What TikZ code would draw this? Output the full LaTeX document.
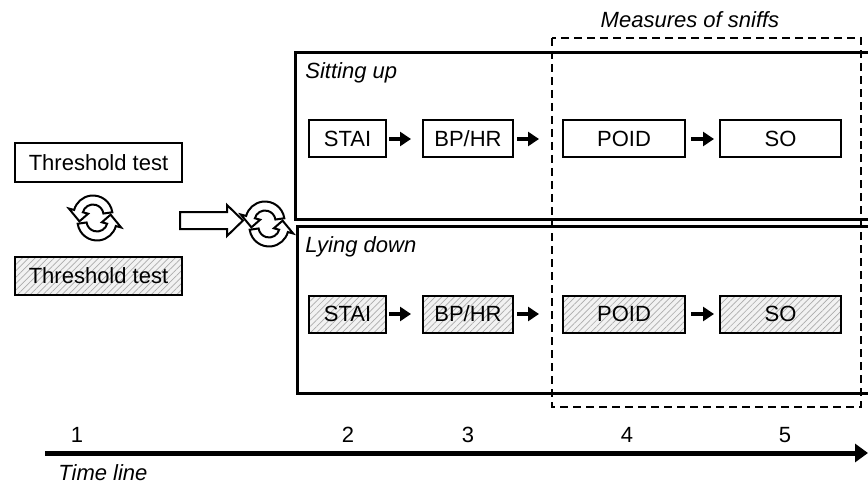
\documentclass[tikz,border=0pt]{standalone}
\usepackage{fontspec}
\setmainfont{Liberation Sans}
\usetikzlibrary{arrows.meta,patterns.meta}

\tikzset{every picture/.style={line width=0.75pt}}
\tikzset{
  txt/.style={font=\fontsize{22}{26}\selectfont},
  tag/.style={font=\fontsize{22}{26}\selectfont\itshape, inner sep=0pt},
  stepbox/.style={txt, draw, line width=2pt, minimum height=37pt, inner sep=0pt},
  hatched/.style={preaction={fill=gray!10}, pattern={Lines[angle=45,distance=4.5pt,line width=0.7pt]}, pattern color=gray!65},
  flow/.style={line width=4.5pt, -{Triangle[length=11pt,width=14pt]}},
  frame/.style={line width=3pt},
  cycleicon/.pic={
    \begin{scope}[yscale=-1, line width=2pt]
    \foreach \rot in {0,180}
      \filldraw[fill=white, rotate=\rot, shift={(2,3)}]
        (172:19.5) arc[start angle=172, end angle=15, radius=19.5]
        -- (15:25) -- (-25:15) -- (15:5) -- (15:10.5)
        arc[start angle=15, end angle=172, radius=10.5] -- cycle;
    \end{scope}
  }
}

\begin{document}
\begin{tikzpicture}[x=1pt,y=1pt,yscale=-1,xscale=1]
\useasboundingbox (0,0) rectangle (868,484);

%Shape: Rectangle (threshold tests)
\node[stepbox, minimum width=167pt, minimum height=39pt] (thrA) at (98.5,162.5) {Threshold test};
\node[stepbox, hatched, minimum width=167pt, minimum height=38pt] (thrB) at (98.5,276) {Threshold test};
\pic (cycA) at (95,218) {cycleicon};

%Shape: Block Arrow
\draw[line width=2pt, fill=white] (180,212) -- (227,212) -- (227,205) -- (243,220.5) -- (227,236) -- (227,229) -- (180,229) -- cycle;

%Straight Lines (open frames)
\draw[frame] (868,53) -- (295,53) -- (295,219) -- (868,219);
\draw[frame] (868,226.5) -- (297,226.5) -- (297,393) -- (868,393);
\pic (cycB) at (267,224) {cycleicon};

%Shape: Rectangle (dashed)
\draw[line width=2pt, dash pattern=on 8pt off 5pt] (552,38) rectangle (861,407);

% Text Node
\node[tag, anchor=base] (sniffs) at (690,28) {Measures of sniffs};
\node[tag, anchor=base west] (sit) at (305,79) {Sitting up};
\node[tag, anchor=base west] (lie) at (305,252) {Lying down};

%Shape: Rectangle (sitting up)
\node[stepbox, minimum width=77pt] (staiA) at (347.5,139) {STAI};
\node[stepbox, minimum width=90pt] (bphrA) at (468,139) {BP/HR};
\node[stepbox, minimum width=122pt] (poidA) at (624,139) {POID};
\node[stepbox, minimum width=121pt] (soA) at (780.5,139) {SO};
\draw[flow, shorten <=2pt, shorten >=11pt] (staiA) -- (bphrA);
\draw[flow, shorten <=3pt, shorten >=23pt] (bphrA) -- (poidA);
\draw[flow, shorten <=5pt, shorten >=5pt] (poidA) -- (soA);

%Shape: Rectangle (lying down)
\node[stepbox, hatched, minimum width=77pt] (staiB) at (347.5,314) {STAI};
\node[stepbox, hatched, minimum width=90pt] (bphrB) at (468,314) {BP/HR};
\node[stepbox, hatched, minimum width=122pt] (poidB) at (624,314) {POID};
\node[stepbox, hatched, minimum width=121pt] (soB) at (780.5,314) {SO};
\draw[flow, shorten <=2pt, shorten >=11pt] (staiB) -- (bphrB);
\draw[flow, shorten <=3pt, shorten >=23pt] (bphrB) -- (poidB);
\draw[flow, shorten <=5pt, shorten >=5pt] (poidB) -- (soB);

%Straight Lines (time line)
\coordinate (tStart) at (45,453);
\coordinate (tEnd) at (868,453);
\draw[line width=5pt, -{Triangle[length=13pt,width=18pt]}] (tStart) -- (tEnd);
\node[txt, anchor=base] (t1) at (77,442) {1};
\node[txt, anchor=base] (t2) at (348,442) {2};
\node[txt, anchor=base] (t3) at (468,442) {3};
\node[txt, anchor=base] (t4) at (627,442) {4};
\node[txt, anchor=base] (t5) at (785,442) {5};
\node[tag, anchor=base west] (tline) at (58,480) {Time line};

\end{tikzpicture}
\end{document}
